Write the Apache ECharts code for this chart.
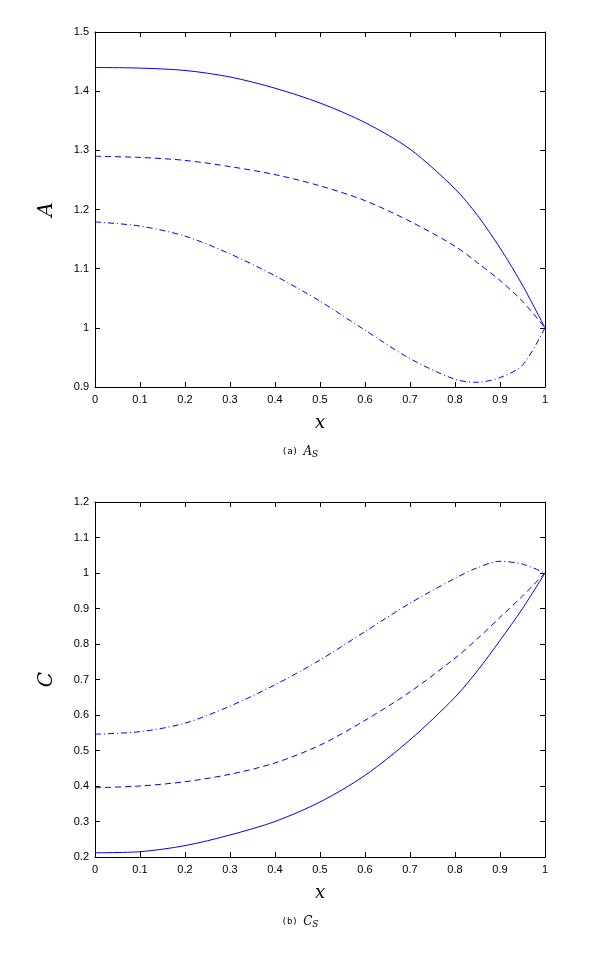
<!DOCTYPE html>
<html>
<head>
<meta charset="utf-8">
<script src="https://cdn.jsdelivr.net/npm/echarts@6/dist/echarts.min.js"></script>
<style>
html,body{margin:0;padding:0;background:#fff;}
#chart{width:600px;height:965px;}
</style>
</head>
<body>
<div id="chart"></div>
<script>
// shared x positions
var xs = [0, 0.1, 0.2, 0.3, 0.4, 0.5, 0.6, 0.7, 0.8, 0.85, 0.9, 0.95, 1.0];

// (a) A_S
var aSolid   = [1.44, 1.439, 1.435, 1.424, 1.405, 1.38, 1.347, 1.302, 1.235, 1.19, 1.135, 1.072, 1.0];
var aDashed  = [1.29, 1.288, 1.283, 1.2725, 1.259, 1.24, 1.215, 1.18, 1.138, 1.11, 1.08, 1.045, 1.0];
var aDashDot = [1.179, 1.172, 1.155, 1.125, 1.088, 1.045, 0.996, 0.948, 0.913, 0.908, 0.916, 0.937, 1.0];

// (b) C_S
var cSolid   = [0.212, 0.215, 0.232, 0.262, 0.30, 0.355, 0.43, 0.53, 0.65, 0.725, 0.81, 0.90, 1.0];
var cDashed  = [0.395, 0.40, 0.412, 0.433, 0.465, 0.515, 0.585, 0.665, 0.76, 0.815, 0.875, 0.935, 1.0];
var cDashDot = [0.546, 0.553, 0.577, 0.625, 0.685, 0.755, 0.835, 0.915, 0.985, 1.015, 1.033, 1.025, 1.0];

// axis ranges / ticks
var xRange = [0, 1, 0.1];
var aRange = [0.9, 1.5, 0.1];
var cRange = [0.2, 1.2, 0.1];

var captionA = ['(a) ', 'A', 'S'];
var captionB = ['(b) ', 'C', 'S'];

function pairs(x, y) { return x.map(function (v, i) { return [v, y[i]]; }); }

var BLUE = '#0000ff';
var lab = {color: '#000', fontFamily: 'Liberation Sans, Arial, sans-serif', fontSize: 11};
function fmt(v) { var s = (+v.toFixed(1)).toString(); return s; }

function xAx(gi, top) {
  return {
    type: 'value', gridIndex: gi, position: top ? 'top' : 'bottom',
    min: xRange[0], max: xRange[1], interval: xRange[2],
    axisLine: {show: true, onZero: false, lineStyle: {color: '#000', width: 1}},
    axisTick: {show: true, inside: true, length: 5, lineStyle: {color: '#000'}},
    axisLabel: top ? {show: false} : Object.assign({margin: 7, formatter: fmt}, lab),
    splitLine: {show: false},
    name: top ? '' : 'x', nameLocation: 'middle', nameGap: 27,
    nameTextStyle: {fontFamily: 'DejaVu Serif, serif', fontStyle: 'italic', fontSize: 18, color: '#000'}
  };
}
function yAx(gi, right, r, nm) {
  return {
    type: 'value', gridIndex: gi, position: right ? 'right' : 'left',
    min: r[0], max: r[1], interval: r[2],
    axisLine: {show: true, onZero: false, lineStyle: {color: '#000', width: 1}},
    axisTick: {show: true, inside: true, length: 5, lineStyle: {color: '#000'}},
    axisLabel: right ? {show: false} : Object.assign({margin: 6, formatter: fmt}, lab),
    splitLine: {show: false},
    name: right ? '' : nm, nameLocation: 'middle', nameGap: 38, nameRotate: 90,
    nameTextStyle: {fontFamily: 'DejaVu Serif, serif', fontStyle: 'italic', fontSize: 20, color: '#000'}
  };
}
function ser(xi, yi, data, type) {
  return {
    type: 'line', xAxisIndex: xi, yAxisIndex: yi, data: data,
    showSymbol: false, smooth: 0.3,
    lineStyle: {color: BLUE, width: 1, type: type}, silent: true
  };
}

var chart = echarts.init(document.getElementById('chart'), null, {renderer: 'canvas'});
var capRich = {
  p: {fontFamily: 'DejaVu Sans Mono, monospace', fontSize: 9, color: '#000'},
  i: {fontFamily: 'DejaVu Serif, serif', fontStyle: 'italic', fontSize: 12, color: '#000'},
  s: {fontFamily: 'DejaVu Serif, serif', fontStyle: 'italic', fontSize: 9, color: '#000', verticalAlign: 'bottom', padding: [6, 0, 0, 0]}
};
chart.setOption({
  animation: false,
  backgroundColor: '#fff',
  grid: [
    {left: 95, right: 55, top: 32, height: 355},
    {left: 95, right: 55, top: 502, height: 355}
  ],
  xAxis: [xAx(0, false), xAx(0, true), xAx(1, false), xAx(1, true)],
  yAxis: [yAx(0, false, aRange, 'A'), yAx(0, true, aRange, ''), yAx(1, false, cRange, 'C'), yAx(1, true, cRange, '')],
  series: [
    ser(0, 0, pairs(xs, aSolid), 'solid'),
    ser(0, 0, pairs(xs, aDashed), [6, 4]),
    ser(0, 0, pairs(xs, aDashDot), [6, 3, 1, 3]),
    ser(2, 2, pairs(xs, cSolid), 'solid'),
    ser(2, 2, pairs(xs, cDashed), [6, 4]),
    ser(2, 2, pairs(xs, cDashDot), [6, 3, 1, 3])
  ],
  graphic: [
    {type: 'text', left: 'center', top: 446, style: {rich: capRich, text: '{p|' + captionA[0] + '}{i|' + captionA[1] + '}{s|' + captionA[2] + '}'}},
    {type: 'text', left: 'center', top: 916, style: {rich: capRich, text: '{p|' + captionB[0] + '}{i|' + captionB[1] + '}{s|' + captionB[2] + '}'}}
  ]
});
</script>
</body>
</html>
